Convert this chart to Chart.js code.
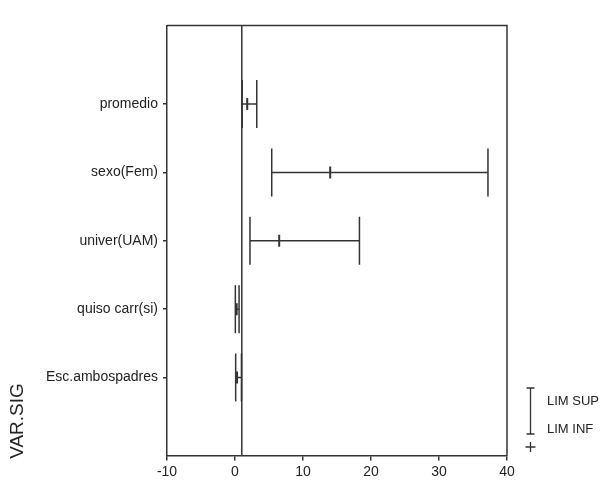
<!DOCTYPE html>
<html>
<head>
<meta charset="utf-8">
<script src="https://cdn.jsdelivr.net/npm/chart.js@4/dist/chart.umd.min.js"></script>
<style>
  html, body { margin: 0; padding: 0; background: #fff; }
  #wrap { width: 605px; height: 481px; }
</style>
</head>
<body>
<div id="wrap"><canvas id="c" width="605" height="481"></canvas></div>
<script>
// Significant variables: odds ratio with lower / upper limits
const categories = ['promedio', 'sexo(Fem)', 'univer(UAM)', 'quiso carr(si)', 'Esc.ambospadres'];
const estimate   = [1.8, 14.0, 6.5, 0.25, 0.3];
const limInf     = [1.05, 5.4, 2.2, 0.05, 0.1];
const limSup     = [3.2, 37.2, 18.3, 0.6, 0.95];
const xTicks     = [-10, 0, 10, 20, 30, 40];
const refValue   = 1;

const ink = '#333333';
const font = 'Arial, "Liberation Sans", sans-serif';

// Row i sits at y = i + 1 (axis reversed, so the first category is on top)
const rowY = categories.map((_, i) => i + 1);
const yMin = -0.15, yMax = 6.14;

const datasets = [];

// Reference line at OR = 1
datasets.push({
  type: 'line',
  data: [{ x: refValue, y: yMin }, { x: refValue, y: yMax }],
  borderColor: ink, borderWidth: 1.5, pointRadius: 0, fill: false
});

// Horizontal span from lower to upper limit, one per row
categories.forEach((_, i) => {
  datasets.push({
    type: 'line',
    data: [{ x: limInf[i], y: rowY[i] }, { x: limSup[i], y: rowY[i] }],
    borderColor: ink, borderWidth: 1.5, pointRadius: 0, fill: false
  });
});

// End caps at the limits
datasets.push({
  type: 'scatter',
  data: categories.flatMap((_, i) => [{ x: limInf[i], y: rowY[i] }, { x: limSup[i], y: rowY[i] }]),
  pointStyle: 'line', rotation: 90, radius: 24,
  borderColor: ink, borderWidth: 1.5, backgroundColor: ink
});

// Point estimate marker
datasets.push({
  type: 'scatter',
  data: categories.map((_, i) => ({ x: estimate[i], y: rowY[i] })),
  pointStyle: 'line', rotation: 90, radius: 6,
  borderColor: ink, borderWidth: 2, backgroundColor: ink
});

const framePlugin = {
  id: 'frame',
  afterDatasetsDraw(chart) {
    const { ctx, chartArea: a } = chart;
    ctx.save();
    ctx.strokeStyle = ink;
    ctx.lineWidth = 1.5;
    ctx.beginPath();
    ctx.moveTo(a.left, a.top);
    ctx.lineTo(a.right, a.top);
    ctx.lineTo(a.right, a.bottom);
    ctx.stroke();
    ctx.restore();
  },
  afterDraw(chart) {
    const { ctx } = chart;
    ctx.save();
    // Vertical axis caption
    ctx.fillStyle = '#222';
    ctx.font = '19px ' + font;
    ctx.translate(18, 421);
    ctx.rotate(-Math.PI / 2);
    ctx.textAlign = 'center';
    ctx.textBaseline = 'middle';
    ctx.fillText('VAR.SIG', 0, 0);
    ctx.restore();

    // Key: limit bar and estimate marker
    ctx.save();
    ctx.strokeStyle = ink;
    ctx.lineWidth = 1.3;
    const kx = 530.5, kTop = 388, kBot = 434;
    ctx.beginPath();
    ctx.moveTo(kx, kTop); ctx.lineTo(kx, kBot);
    ctx.moveTo(kx - 4, kTop); ctx.lineTo(kx + 4, kTop);
    ctx.moveTo(kx - 4, kBot); ctx.lineTo(kx + 4, kBot);
    ctx.moveTo(kx - 5, 447); ctx.lineTo(kx + 5, 447);
    ctx.moveTo(kx, 442); ctx.lineTo(kx, 452);
    ctx.stroke();
    ctx.fillStyle = '#222';
    ctx.font = '13px ' + font;
    ctx.textAlign = 'left';
    ctx.textBaseline = 'middle';
    ctx.fillText('LIM SUP', 547, 401);
    ctx.fillText('LIM INF', 547, 429);
    ctx.restore();
  }
};

new Chart(document.getElementById('c'), {
  type: 'scatter',
  data: { datasets },
  options: {
    responsive: false,
    animation: false,
    layout: { padding: { top: 10, right: 98, left: 0, bottom: 0 } },
    plugins: { legend: { display: false }, tooltip: { enabled: false } },
    scales: {
      x: {
        type: 'linear', min: xTicks[0], max: xTicks[xTicks.length - 1],
        afterBuildTicks: s => { s.ticks = xTicks.map(v => ({ value: v })); },
        afterFit: s => { s.height = 23; s.paddingLeft = 0; s.paddingRight = 0; },
        ticks: { color: '#222', font: { family: font, size: 14 }, padding: 3 },
        grid: { display: true, drawOnChartArea: false, tickLength: 5, color: ink, lineWidth: 1.5 },
        border: { display: true, color: ink, width: 1.5 }
      },
      y: {
        type: 'linear', reverse: true, min: yMin, max: yMax,
        afterBuildTicks: s => { s.ticks = rowY.map(v => ({ value: v })); },
        afterFit: s => { s.width = 167; s.paddingTop = 0; s.paddingBottom = 0; },
        ticks: {
          color: '#222', font: { family: font, size: 14 }, padding: 5,
          callback: v => categories[v - 1]
        },
        grid: { display: true, drawOnChartArea: false, tickLength: 4, color: ink, lineWidth: 1.5 },
        border: { display: true, color: ink, width: 1.5 }
      }
    }
  },
  plugins: [framePlugin]
});
</script>
</body>
</html>
